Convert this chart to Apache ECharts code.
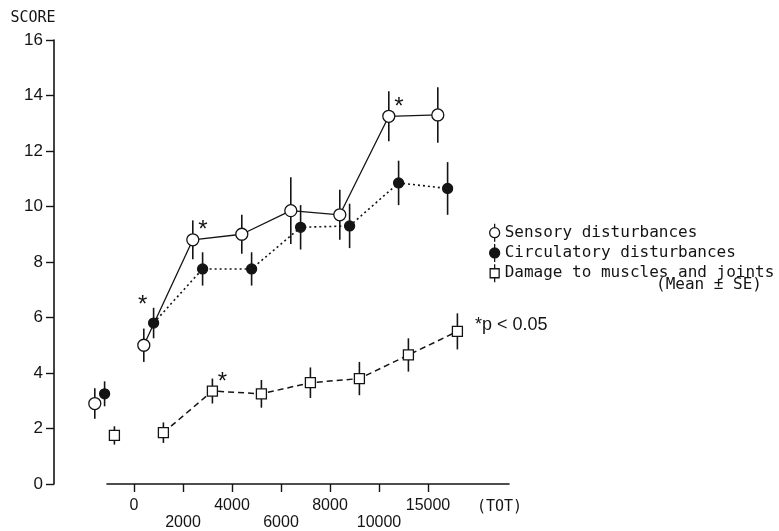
<!DOCTYPE html>
<html><head><meta charset="utf-8">
<script src="https://cdn.jsdelivr.net/npm/echarts@6/dist/echarts.min.js"></script>
<style>html,body{margin:0;padding:0;background:#fff}#c{width:779px;height:531px}</style>
</head><body><div id="c"></div>
<script>
// ---- data ----
const tickLabels = ['0','2000','4000','6000','8000','10000','15000'];
const groups = ['control','0-2000','2000-4000','4000-6000','6000-8000','8000-10000','10000-15000','>15000'];
const sensoryMean = [2.9, 5.0, 8.8, 9.0, 9.85, 9.7, 13.25, 13.3];
const sensorySE   = [0.55, 0.6, 0.7, 0.7, 1.2, 0.9, 0.9, 1.0];
const sensorySig  = [0, 0, 1, 0, 0, 0, 1, 0];
const circMean    = [3.25, 5.8, 7.75, 7.75, 9.25, 9.3, 10.85, 10.65];
const circSE      = [0.45, 0.55, 0.6, 0.6, 0.8, 0.8, 0.8, 0.95];
const circSig     = [0, 1, 0, 0, 0, 0, 0, 0];
const muscleMean  = [1.75, 1.85, 3.35, 3.25, 3.65, 3.8, 4.65, 5.5];
const muscleSE    = [0.33, 0.37, 0.45, 0.5, 0.55, 0.6, 0.6, 0.65];
const muscleSig   = [0, 0, 1, 0, 0, 0, 0, 0];
const names = ['Sensory disturbances', 'Circulatory disturbances', 'Damage to muscles and joints'];

// ---- styling / layout ----
const INK = '#141414';
const groupShift = -0.8;          // groups sit between tick marks
const seriesShift = [0, 0.2, 0.4]; // small horizontal dodge per series
const sigOffsetDefault = [10, -9];
const sigOffsetSpecial = {1: {1: [-11, -18]}};
const xPos = (i, s) => i + groupShift + seriesShift[s];

const symbolCfg = [
  {symbol: 'circle', size: 12, fill: '#fff'},
  {symbol: 'circle', size: 10, fill: INK},
  {symbol: 'rect',   size: 10, fill: '#fff'}
];
const lineCfg = [
  {type: 'solid', width: 1.3},
  {type: [2, 3], width: 1.6},
  {type: [6, 4], width: 1.5}
];
const legendIcons = [
  'path://M5,0L5,4M5,14L5,18M0,9A5,5,0,1,1,10,9A5,5,0,1,1,0,9Z',
  'path://M5,0L5,18M0,9A5,5,0,1,1,10,9A5,5,0,1,1,0,9Z',
  'path://M5,0L5,4.5M5,13.5L5,18M0.5,4.5L9.5,4.5L9.5,13.5L0.5,13.5Z'
];

const means = [sensoryMean, circMean, muscleMean];
const ses = [sensorySE, circSE, muscleSE];
const sigs = [sensorySig, circSig, muscleSig];

function pointItem(s, i) {
  const item = {value: [xPos(i, s), means[s][i]]};
  if (sigs[s][i]) {
    const off = (sigOffsetSpecial[s] && sigOffsetSpecial[s][i]) || sigOffsetDefault;
    item.label = {show: true, formatter: '*', position: 'inside', offset: off,
      fontSize: 24, fontFamily: 'Liberation Sans', color: INK};
  }
  return item;
}

const series = [];
for (let s = 0; s < 3; s++) {
  const itemStyle = {color: symbolCfg[s].fill, borderColor: INK, borderWidth: 1.3, opacity: 1};
  // isolated control-group point (first so legend takes its icon style)
  series.push({
    name: names[s], type: 'scatter', z: 3, clip: false,
    symbol: symbolCfg[s].symbol, symbolSize: symbolCfg[s].size, itemStyle,
    data: [pointItem(s, 0)], silent: true
  });
  // connected exposure groups
  series.push({
    name: names[s], type: 'line', z: 3, clip: false,
    symbol: symbolCfg[s].symbol, symbolSize: symbolCfg[s].size, showAllSymbol: true,
    itemStyle, lineStyle: {color: INK, width: lineCfg[s].width, type: lineCfg[s].type},
    data: means[s].map((m, i) => pointItem(s, i)).slice(1), silent: true
  });
  // error bars (mean ± SE)
  series.push({
    type: 'custom', z: 1, silent: true,
    data: means[s].map((m, i) => [xPos(i, s), m - ses[s][i], m + ses[s][i]]),
    encode: {x: 0, y: [1, 2]},
    renderItem(params, api) {
      const lo = api.coord([api.value(0), api.value(1)]);
      const hi = api.coord([api.value(0), api.value(2)]);
      return {type: 'line', shape: {x1: lo[0], y1: lo[1], x2: hi[0], y2: hi[1]},
        style: {stroke: INK, lineWidth: 1.6}};
    }
  });
}

const chart = echarts.init(document.getElementById('c'), null, {renderer: 'canvas'});
chart.setOption({
  animation: false,
  backgroundColor: '#fff',
  grid: {left: 107, right: 270, top: 40, bottom: 43},
  xAxis: {
    type: 'value', min: -0.551, max: 7.653,
    axisLine: {show: true, onZero: false, lineStyle: {color: INK, width: 1.6}},
    axisTick: {show: true, customValues: [0, 1, 2, 3, 4, 5, 6], length: 8,
      lineStyle: {color: INK, width: 1.4}},
    axisLabel: {customValues: [0, 1, 2, 3, 4, 5, 6],
      formatter: v => { const k = Math.round(v); return (k % 2 ? '\n' : '') + tickLabels[k]; },
      fontFamily: 'Liberation Sans', fontSize: 16, lineHeight: 17, color: INK, margin: 13},
    splitLine: {show: false}
  },
  yAxis: {
    type: 'value', min: 0, max: 16, interval: 2, offset: 53,
    name: 'SCORE', nameLocation: 'end', nameGap: 14,
    nameTextStyle: {fontFamily: 'DejaVu Sans Mono', fontSize: 15, color: INK,
      align: 'center', padding: [0, 42, 0, 0]},
    axisLine: {show: true, onZero: false, lineStyle: {color: INK, width: 1.6}},
    axisTick: {show: true, length: 8, lineStyle: {color: INK, width: 1.4}},
    axisLabel: {fontFamily: 'Liberation Sans', fontSize: 17, color: INK, margin: 11},
    splitLine: {show: false}
  },
  legend: {
    orient: 'vertical', left: 484, top: 218, itemWidth: 10, itemHeight: 18, itemGap: 1,
    selectedMode: false,
    itemStyle: {borderWidth: 1.3},
    textStyle: {fontFamily: 'DejaVu Sans Mono', fontSize: 16, color: INK},
    data: names.map((n, k) => ({name: n, icon: legendIcons[k]}))
  },
  graphic: [
    {type: 'text', left: 656, top: 277,
      style: {text: '(Mean ± SE)', font: '16px "DejaVu Sans Mono"', fill: INK}},
    {type: 'text', left: 475, top: 316,
      style: {text: '*p < 0.05', font: '18px "Liberation Sans"', fill: INK}},
    {type: 'text', left: 477, top: 500,
      style: {text: '(TOT)', font: '15px "DejaVu Sans Mono"', fill: INK}}
  ],
  series
});
</script>
</body></html>
